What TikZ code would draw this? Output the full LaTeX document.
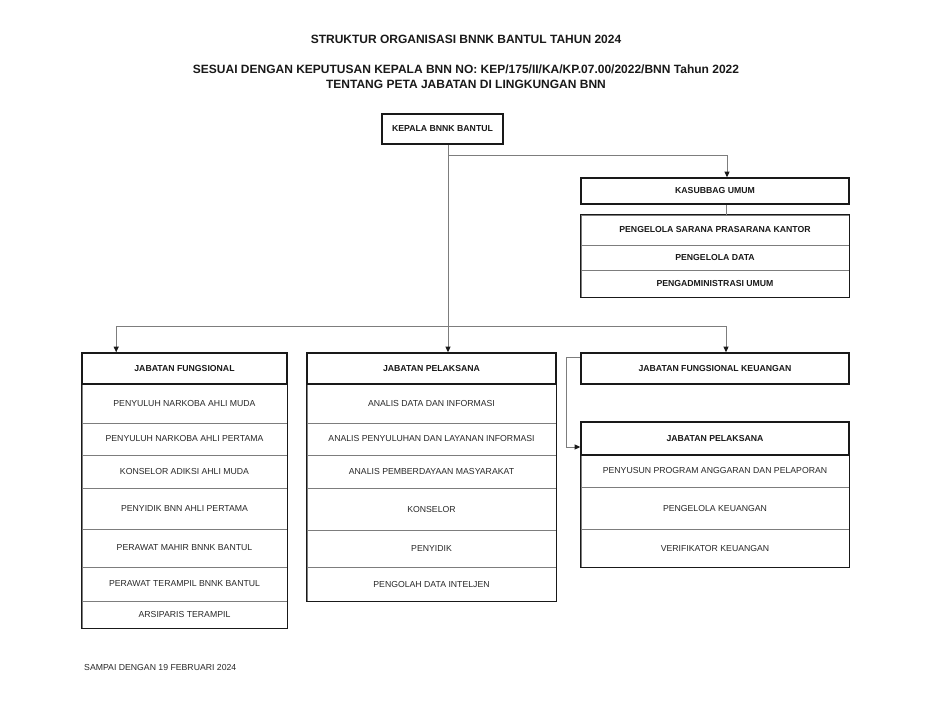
\documentclass[tikz,border=0pt]{standalone}
\usepackage{fontspec}
\setmainfont{Liberation Sans}
\usetikzlibrary{arrows.meta}
\definecolor{linegray}{RGB}{125,125,125}
\definecolor{boxblack}{RGB}{25,25,25}
\definecolor{textgray}{RGB}{40,40,40}

\tikzset{
  title/.style={font=\bfseries\fontsize{12}{14}\selectfont, text=boxblack, inner sep=0pt},
  head/.style={draw=boxblack, fill=white, line width=1.6pt, text=boxblack, font=\bfseries\fontsize{8.7}{10}\selectfont, inner sep=0pt},
  row/.style={draw=linegray, line width=0.8pt, text=textgray, font=\fontsize{8.7}{10}\selectfont, inner sep=0pt},
  rowb/.style={row, text=boxblack, font=\bfseries\fontsize{8.7}{10}\selectfont},
  box/.style={draw=boxblack, line width=1.6pt},
  link/.style={draw=linegray, line width=0.7pt},
  tip/.style={-{Triangle[length=5.5pt,width=5pt,color=boxblack]}}
}

\begin{document}
\begin{tikzpicture}[x=1pt, y=-1pt]
    \useasboundingbox (0,0) rectangle (932,720);

    % Titles
    \node[title] (t1) at (466,39) {STRUKTUR ORGANISASI BNNK BANTUL TAHUN 2024};
    \node[title] (t2) at (466,69) {SESUAI DENGAN KEPUTUSAN KEPALA BNN NO: KEP/175/II/KA/KP.07.00/2022/BNN Tahun 2022};
    \node[title] (t3) at (466,84) {TENTANG PETA JABATAN DI LINGKUNGAN BNN};

    % Head of office
    \node[head, minimum width=121pt, minimum height=30pt] (kepala) at (442.5,129) {KEPALA BNNK BANTUL};

    % Kasubbag and its staff
    \node[head, minimum width=268pt, minimum height=26pt] (kasub) at (715,191) {KASUBBAG UMUM};
    \foreach \ya/\yb/\txt [count=\k] in {215/245/PENGELOLA SARANA PRASARANA KANTOR,
        245/270/PENGELOLA DATA, 270/297/PENGADMINISTRASI UMUM}
        \node[rowb, minimum width=268pt, minimum height={\yb-\ya}] (ks\k) at (715,{(\ya+\yb)/2}) {\txt};
    \draw[box] (ks1.north west) rectangle (ks3.south east);

    % Jabatan fungsional (left column)
    \foreach \ya/\yb/\txt [count=\k] in {384/423/PENYULUH NARKOBA AHLI MUDA,
        423/455/PENYULUH NARKOBA AHLI PERTAMA, 455/488/KONSELOR ADIKSI AHLI MUDA,
        488/529/PENYIDIK BNN AHLI PERTAMA, 529/567/PERAWAT MAHIR BNNK BANTUL,
        567/601/PERAWAT TERAMPIL BNNK BANTUL, 601/628/ARSIPARIS TERAMPIL}
        \node[row, minimum width=205pt, minimum height={\yb-\ya}] (jf\k) at (184.5,{(\ya+\yb)/2}) {\txt};
    \draw[box] (jf1.north west) rectangle (jf7.south east);
    \node[head, minimum width=205pt, minimum height=31pt] (jfh) at (184.5,368.5) {JABATAN FUNGSIONAL};

    % Jabatan pelaksana (middle column)
    \foreach \ya/\yb/\txt [count=\k] in {384/423/ANALIS DATA DAN INFORMASI,
        423/455/ANALIS PENYULUHAN DAN LAYANAN INFORMASI, 455/488/ANALIS PEMBERDAYAAN MASYARAKAT,
        488/530/KONSELOR, 530/567/PENYIDIK, 567/601/PENGOLAH DATA INTELJEN}
        \node[row, minimum width=249pt, minimum height={\yb-\ya}] (jp\k) at (431.5,{(\ya+\yb)/2}) {\txt};
    \draw[box] (jp1.north west) rectangle (jp6.south east);
    \node[head, minimum width=249pt, minimum height=31pt] (jph) at (431.5,368.5) {JABATAN PELAKSANA};

    % Keuangan (right column)
    \node[head, minimum width=268pt, minimum height=31pt] (jfk) at (715,368.5) {JABATAN FUNGSIONAL KEUANGAN};
    \foreach \ya/\yb/\txt [count=\k] in {455/487/PENYUSUN PROGRAM ANGGARAN DAN PELAPORAN,
        487/529/PENGELOLA KEUANGAN, 529/567/VERIFIKATOR KEUANGAN}
        \node[row, minimum width=268pt, minimum height={\yb-\ya}] (jk\k) at (715,{(\ya+\yb)/2}) {\txt};
    \draw[box] (jk1.north west) rectangle (jk3.south east);
    \node[head, minimum width=268pt, minimum height=33pt] (jkh) at (715,438.5) {JABATAN PELAKSANA};

    % Connectors
    \coordinate (split) at ([xshift=5.5pt]kepala.south);
    \coordinate (kasubin) at ([xshift=12pt]kasub.north);
    \coordinate (jfin) at ([xshift=35pt]jfh.north west);
    \coordinate (jfkin) at ([xshift=11pt]jfk.north);
    \coordinate (bus) at ([yshift=26pt]jfin -| split);
    \draw[link, tip] (split) |- ([yshift=22pt]kasubin) -- (kasubin);
    \draw[link, tip] (split) -- (jph.north -| split);
    \draw[link, tip] (bus) -| (jfin);
    \draw[link, tip] (bus) -| (jfkin);
    \draw[link] ([xshift=11pt]kasub.south) -- ([xshift=11pt]ks1.north);
    \draw[link, tip] ([yshift=-5pt]jfk.north west) -- ++(-14,0) |- ([yshift=-8.5pt]jkh.west);

    % Footnote
    \node[anchor=west, inner sep=0pt, text=textgray, font=\fontsize{8.7}{10}\selectfont] (note) at (84,667) {SAMPAI DENGAN 19 FEBRUARI 2024};
\end{tikzpicture}
\end{document}
